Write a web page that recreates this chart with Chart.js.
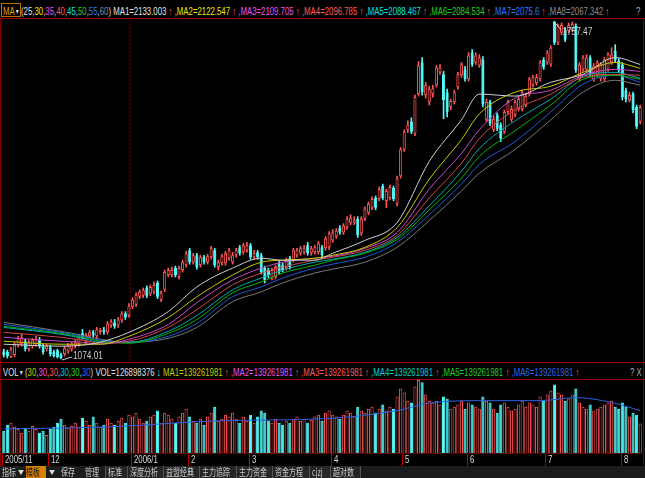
<!DOCTYPE html>
<html>
<head>
<meta charset="utf-8">
<script src="https://cdn.jsdelivr.net/npm/chart.js@4.4.1/dist/chart.umd.min.js"></script>
<style>
  html, body { margin: 0; padding: 0; background: #000; }
  body { position: relative; width: 645px; height: 478px; overflow: hidden; font-family: "Liberation Sans", Arial, sans-serif; }
  canvas { position: absolute; }
  .hline { position: absolute; left: 0; width: 645px; height: 1px; background: #a00000; }
  .vline { position: absolute; top: 18px; width: 1px; height: 448px; background: #800000; }
  .run { position: absolute; font-size: 11px; line-height: 12px; white-space: nowrap; transform: scaleX(0.71); transform-origin: 0 0; }
  .run b { font-weight: normal; }
  .tri { font-size: 7px; vertical-align: 1px; }
  #mabtn { position: absolute; left: 1px; top: 3px; width: 18px; height: 12px; border: 1px solid #c07000; }
  #tabs { position: absolute; left: 0; top: 466px; width: 645px; height: 12px; background: #1c1c1c; color: #c8c8c8; font-family: "Noto Sans CJK SC", sans-serif; font-size: 10px; line-height: 12px; }
  #tabs span { position: absolute; top: 0; height: 12px; white-space: nowrap; }
  #tabs span i { display: inline-block; font-style: normal; transform: scaleX(0.7); transform-origin: 0 0; }
  #tabs span.dd { font-size: 6px; color: #ddd; }
  #tabs .tab { border-left: 1px solid #555; background: #262626; }
  #tabs .tpl { background: #d88000; color: #111; }
</style>
</head>
<body>
<div id="mabtn"></div>
<div class="run" id="topHdr" style="left:3px;top:5px"></div>
<div class="run" style="left:636px;top:5px;color:#aaa">?</div>
<div class="hline" style="top:18px"></div>
<canvas id="price" width="640" height="343" style="left:2px;top:19px"></canvas>
<div class="hline" style="top:362px"></div>
<div class="run" id="volHdr" style="left:3px;top:366px"></div>
<div class="run" style="left:630px;top:366px;color:#aaa">? X</div>
<div class="hline" style="top:379px"></div>
<canvas id="vol" width="640" height="86" style="left:2px;top:380px"></canvas>
<div class="vline" style="left:0"></div>
<div class="vline" style="left:643px"></div>
<div id="tabs">
  <span style="left:2px"><i>指标</i></span><span class="dd" style="left:18px">▼</span>
  <span class="tpl" style="left:26px;width:20px"><i>模板</i></span><span class="dd" style="left:49px">▼</span>
  <span style="left:61px"><i>保存</i></span>
  <span style="left:85px"><i>管理</i></span>
  <span class="tab" style="left:105px;width:22px;padding-left:2px"><i>标准</i></span>
  <span class="tab" style="left:127px;width:33px;padding-left:2px"><i>深度分析</i></span>
  <span class="tab" style="left:163px;width:33px;padding-left:2px"><i>益盟经典</i></span>
  <span class="tab" style="left:199px;width:34px;padding-left:2px"><i>主力追踪</i></span>
  <span class="tab" style="left:236px;width:33px;padding-left:2px"><i>主力资金</i></span>
  <span class="tab" style="left:272px;width:34px;padding-left:2px"><i>资金方程</i></span>
  <span class="tab" style="left:309px;width:19px;padding-left:2px"><i>cjzj</i></span>
  <span class="tab" style="left:330px;width:27px;padding-left:2px;border-right:1px solid #555"><i>超对数</i></span>
</div>

<script>
// months shown on the date axis and trading days in each
const monthLabels = ['2005/11', '12', '2006/1', '2', '3', '4', '5', '6', '7', '8'];
const monthDays = [13, 23, 16, 17, 23, 20, 18, 22, 21, 6];

// daily candles
const open = [
  1090,1088,1078,1082,1102,1104,1110,1094,1100,1104,
  1112,1100,1094,1098,1088,1092,1082,1084,1090,1094,
  1100,1104,1126,1108,1120,1128,1120,1128,1134,1128,
  1142,1148,1142,1152,1166,1162,1180,1184,1200,1202,
  1218,1206,1210,1228,1194,1214,1244,1244,1258,1240,
  1254,1264,1294,1270,1284,1264,1280,1270,1280,1294,
  1260,1268,1268,1278,1270,1284,1300,1290,1294,1304,
  1280,1290,1284,1258,1254,1238,1240,1268,1264,1258,
  1278,1274,1284,1288,1290,1304,1288,1290,1290,1300,
  1298,1300,1314,1322,1340,1330,1340,1350,1350,1358,
  1328,1358,1370,1380,1400,1398,1424,1394,1400,1420,
  1388,1444,1498,1538,1554,1530,1610,1674,1608,1594,
  1610,1628,1654,1650,1614,1584,1594,1624,1648,1660,
  1640,1694,1674,1668,1680,1558,1594,1538,1568,1548,
  1534,1574,1558,1568,1580,1580,1588,1610,1628,1632,
  1640,1680,1674,1670,1756,1714,1734,1740,1738,1740,
  1748,1640,1660,1660,1684,1640,1648,1640,1640,1660,
  1674,1698,1678,1670,1618,1598,1610,1584,1554
];
const high = [
  1094,1092,1098,1108,1120,1124,1114,1112,1116,1120,
  1118,1104,1104,1102,1092,1094,1086,1100,1106,1108,
  1112,1122,1134,1126,1132,1132,1138,1136,1138,1150,
  1154,1154,1158,1170,1170,1186,1198,1208,1214,1218,
  1222,1224,1230,1232,1212,1254,1258,1260,1262,1262,
  1274,1292,1298,1288,1288,1284,1284,1286,1302,1298,
  1274,1286,1292,1298,1290,1298,1304,1308,1310,1308,
  1294,1294,1288,1262,1258,1258,1264,1272,1268,1278,
  1282,1298,1298,1302,1304,1310,1302,1304,1312,1304,
  1322,1332,1336,1338,1344,1348,1362,1366,1362,1362,
  1362,1382,1392,1402,1404,1422,1428,1418,1426,1424,
  1444,1502,1538,1556,1562,1608,1676,1684,1634,1626,
  1628,1668,1670,1656,1620,1600,1618,1654,1674,1666,
  1694,1700,1694,1690,1686,1600,1598,1566,1572,1552,
  1578,1598,1586,1598,1604,1618,1612,1644,1648,1650,
  1678,1684,1698,1708,1757.47,1752,1754,1744,1754,1756,
  1752,1674,1688,1690,1688,1672,1678,1674,1684,1694,
  1704,1710,1682,1674,1622,1614,1614,1588,1588
];
const low = [
  1078,1076,1077,1079,1098,1100,1090,1090,1096,1100,
  1096,1084,1090,1080,1078,1076,1074.01,1080,1086,1090,
  1096,1100,1114,1104,1116,1118,1116,1124,1124,1124,
  1138,1136,1138,1148,1154,1158,1176,1180,1196,1198,
  1198,1202,1206,1196,1190,1210,1240,1240,1240,1236,
  1250,1260,1266,1266,1256,1260,1266,1266,1276,1260,
  1254,1264,1264,1274,1266,1280,1284,1286,1290,1276,
  1276,1276,1246,1228,1238,1234,1236,1246,1250,1254,
  1256,1270,1280,1284,1286,1284,1284,1286,1286,1280,
  1294,1296,1310,1318,1326,1326,1336,1346,1346,1320,
  1324,1354,1366,1376,1376,1394,1396,1380,1396,1394,
  1384,1440,1494,1532,1530,1526,1606,1608,1602,1588,
  1604,1624,1650,1560,1564,1578,1590,1620,1644,1636,
  1636,1666,1670,1664,1584,1554,1546,1534,1536,1514,
  1530,1570,1554,1564,1576,1576,1584,1606,1624,1628,
  1636,1660,1670,1666,1710,1710,1730,1716,1734,1736,
  1654,1636,1656,1656,1646,1636,1644,1636,1636,1656,
  1670,1674,1654,1598,1594,1594,1572,1540,1550
];
const close = [
  1082,1080,1094,1104,1116,1118,1094,1108,1112,1114,
  1100,1088,1100,1084,1080,1078,1076,1096,1102,1104,
  1108,1118,1118,1122,1128,1122,1134,1132,1128,1146,
  1150,1140,1154,1166,1158,1182,1194,1204,1210,1214,
  1202,1220,1224,1200,1208,1250,1254,1254,1244,1258,
  1270,1288,1270,1284,1260,1280,1270,1282,1298,1264,
  1270,1282,1288,1294,1284,1294,1288,1304,1304,1280,
  1288,1280,1250,1234,1244,1254,1260,1250,1254,1274,
  1260,1294,1294,1298,1298,1288,1298,1300,1308,1284,
  1318,1328,1330,1334,1330,1344,1358,1360,1356,1324,
  1358,1378,1388,1398,1380,1418,1400,1414,1422,1398,
  1440,1498,1534,1548,1534,1604,1668,1614,1628,1620,
  1622,1664,1664,1598,1574,1596,1614,1650,1670,1640,
  1688,1670,1688,1684,1590,1594,1550,1560,1540,1520,
  1574,1594,1580,1594,1600,1614,1606,1640,1644,1644,
  1674,1664,1694,1704,1714,1748,1750,1720,1750,1752,
  1658,1670,1684,1684,1650,1668,1674,1670,1680,1690,
  1690,1678,1658,1604,1600,1608,1578,1544,1584
];
// volume, millions
const volume = [
  96,122,131,113,104,87,109,96,117,104,
  87,96,78,104,113,131,148,122,109,117,
  131,113,152,139,122,157,131,113,122,148,
  131,122,139,152,131,165,157,174,148,131,
  139,157,165,183,131,174,165,148,131,157,
  174,191,157,139,131,148,122,157,174,200,
  139,148,165,157,174,148,131,157,139,165,
  131,157,183,174,139,131,148,131,122,139,
  131,148,157,139,148,131,144,157,165,139,
  174,183,165,157,148,165,183,174,157,200,
  183,174,191,200,174,191,209,183,200,191,
  244,278,261,226,218,287,315,305,252,226,
  218,226,209,244,235,191,200,209,226,191,
  218,209,200,191,244,226,218,191,174,209,
  218,200,183,191,209,226,200,218,209,200,
  244,226,252,270,296,261,252,226,235,252,
  278,218,200,191,209,183,191,200,209,218,
  226,200,191,218,200,157,174,165,127
];

// moving averages at these candle positions
const maPeriods = [25, 30, 35, 40, 45, 50, 55, 60];
const maLast = [2133.003, 2122.547, 2109.705, 2096.785, 2088.467, 2084.534, 2075.6, 2067.342];
const maIdx = [0, 16, 22, 27, 35, 46, 54, 64, 72, 78, 87, 92, 101, 110, 119, 128, 133, 143, 153, 162, 171, 178];
const ma1 = [1104,1100,1102,1108,1128,1170,1220,1258,1278,1274,1274,1288,1314,1350,1474,1558,1610,1606,1634,1650,1684,1670];
const ma2 = [1110,1104,1104,1104,1120,1158,1200,1244,1270,1274,1278,1284,1300,1340,1438,1518,1570,1614,1626,1654,1674,1662];
const ma3 = [1118,1110,1108,1104,1114,1144,1188,1234,1258,1270,1278,1282,1298,1330,1418,1490,1538,1602,1618,1648,1660,1656];
const ma4 = [1128,1118,1112,1106,1110,1138,1174,1224,1248,1260,1274,1280,1294,1324,1400,1470,1520,1578,1610,1644,1650,1648];
const ma5 = [1138,1124,1116,1108,1108,1130,1162,1214,1238,1254,1270,1276,1290,1320,1384,1454,1500,1556,1600,1646,1654,1642];
const ma6 = [1140,1126,1118,1110,1106,1126,1154,1208,1230,1248,1264,1274,1288,1316,1376,1440,1484,1536,1588,1640,1648,1640];
const ma7 = [1144,1128,1120,1112,1108,1120,1146,1200,1220,1238,1258,1266,1280,1310,1366,1428,1468,1514,1574,1630,1648,1634];
const ma8 = [1148,1130,1122,1114,1108,1116,1138,1190,1210,1228,1248,1256,1270,1300,1354,1414,1450,1498,1558,1614,1638,1628];

const volMaPeriods = [30, 30, 30, 30, 30, 30];
const volLast = 126898376;
const volMaLast = [139261981, 139261981, 139261981, 139261981, 139261981, 139261981];
const volMaIdx = [0, 30, 60, 90, 110, 120, 135, 150, 160, 170, 178];
const volMa = [104, 113, 139, 148, 183, 218, 226, 226, 239, 218, 183];

// ---- colours
const RED = '#ff5454', CYAN = '#54fcfc';
const maTextColors = ['#e0e0e0', '#e8e800', '#f050f0', '#ff5a5a', '#00e0e0', '#20d020', '#2a78ff', '#8c8c8c'];
const maLineColors = ['#d0d0d0', '#c8c800', '#c848c8', '#d04848', '#00aaaa', '#00b400', '#1a5ad8', '#787878'];
const volTextColors = ['#c8d000', '#f050f0', '#ff5a5a', '#00d0d0', '#20d020', '#2a68f0'];

// ---- headers
function addRun(el, parts) {
  parts.forEach(([txt, col]) => {
    const b = document.createElement('b');
    b.textContent = txt;
    b.style.color = col;
    el.appendChild(b);
  });
}
const topParts = [['MA', '#e8a000'], ['▼ ', '#ddd'], ['(', '#ddd']];
maPeriods.forEach((p, j) => { topParts.push([String(p), maTextColors[j]]); topParts.push([j < 7 ? ',' : ') ', '#ddd']); });
maLast.forEach((v, j) => {
  topParts.push([(j ? ',' : '') + 'MA' + (j + 1) + '=' + v, maTextColors[j]]);
  topParts.push([' ↑ ', RED]);
});
addRun(document.getElementById('topHdr'), topParts);
document.querySelector('#topHdr b:nth-child(2)').className = 'tri';

const volParts = [['VOL', '#e0e0e0'], ['▼ ', '#ddd'], ['(', '#ddd']];
volMaPeriods.forEach((p, j) => { volParts.push([String(p), volTextColors[j]]); volParts.push([j < 5 ? ',' : ') ', '#ddd']); });
volParts.push(['VOL=' + volLast, '#e0e0e0'], [' ↓ ', CYAN]);
volMaLast.forEach((v, j) => {
  volParts.push([(j ? ',' : '') + 'MA' + (j + 1) + '=' + v, volTextColors[j]]);
  volParts.push([' ↑ ', RED]);
});
addRun(document.getElementById('volHdr'), volParts);
document.querySelector('#volHdr b:nth-child(2)').className = 'tri';

// ---- shared data prep
const N = close.length;
const labels = [];
const monthStart = [];
monthLabels.forEach((m, k) => {
  monthStart.push(labels.length);
  for (let d = 0; d < monthDays[k]; d++) labels.push(d === 0 ? m : '');
});
const yearStart = monthDays[0] + monthDays[1];
const isUp = close.map((c, i) => c >= open[i]);
const edge = isUp.map(u => u ? RED : CYAN);
const fill = isUp.map(u => u ? '#000' : CYAN);

function sparse(idx, vals) {
  const a = new Array(N).fill(null);
  idx.forEach((k, j) => { a[k] = vals[j]; });
  return a;
}

Chart.defaults.font.family = '"Liberation Sans", Arial, sans-serif';

// labels at the lowest low and the highest high
const extremes = {
  id: 'extremes',
  afterDatasetsDraw(chart) {
    const { ctx, scales: { x, y } } = chart;
    const lo = low.indexOf(Math.min(...low));
    const hi = high.indexOf(Math.max(...high));
    ctx.save();
    ctx.strokeStyle = '#cfcfcf';
    ctx.fillStyle = '#cfcfcf';
    ctx.lineWidth = 1;
    ctx.font = '11px "Liberation Sans", Arial';
    ctx.textBaseline = 'middle';

    let px = x.getPixelForValue(lo), py = y.getPixelForValue(low[lo]);
    ctx.beginPath(); ctx.moveTo(px + 1, py + 1); ctx.lineTo(px + 11, py - 2); ctx.stroke();
    ctx.save(); ctx.translate(px + 12, py - 3); ctx.scale(0.75, 1);
    ctx.fillText(low[lo].toFixed(2), 0, 0); ctx.restore();

    px = x.getPixelForValue(hi); py = y.getPixelForValue(high[hi]);
    ctx.beginPath(); ctx.moveTo(px + 1, py + 2); ctx.lineTo(px + 7, py + 9); ctx.stroke();
    ctx.save(); ctx.translate(px + 8, py + 11); ctx.scale(0.75, 1);
    ctx.fillText(high[hi].toFixed(2), 0, 0); ctx.restore();
    ctx.restore();
  }
};

// month ticks and labels under the volume panel
const dateAxis = {
  id: 'dateAxis',
  afterDraw(chart) {
    const { ctx, scales: { x }, chartArea } = chart;
    const half = (x.getPixelForValue(1) - x.getPixelForValue(0)) / 2;
    ctx.save();
    ctx.strokeStyle = '#5a0000';
    ctx.beginPath(); ctx.moveTo(0, chartArea.bottom + 0.5); ctx.lineTo(chart.width, chartArea.bottom + 0.5); ctx.stroke();
    ctx.strokeStyle = '#c00000';
    ctx.fillStyle = '#d8d8d8';
    ctx.font = '10px "Liberation Sans", Arial';
    ctx.textBaseline = 'top';
    monthStart.forEach(i => {
      const px = Math.round(x.getPixelForValue(i) - half) + 0.5;
      ctx.beginPath(); ctx.moveTo(px, chartArea.bottom + 1); ctx.lineTo(px, chartArea.bottom + 13); ctx.stroke();
      ctx.save(); ctx.translate(px + 2.5, chartArea.bottom + 2); ctx.scale(0.78, 1);
      ctx.fillText(labels[i], 0, 0); ctx.restore();
    });
    ctx.restore();
  }
};

const maSets = [ma1, ma2, ma3, ma4, ma5, ma6, ma7, ma8].map((v, j) => ({
  type: 'line',
  data: sparse(maIdx, v),
  borderColor: maLineColors[j],
  borderWidth: 1,
  pointRadius: 0,
  spanGaps: true,
  cubicInterpolationMode: 'monotone',
  order: 0
}));

new Chart(document.getElementById('price'), {
  data: {
    labels: labels,
    datasets: maSets.concat([
      {
        type: 'bar',
        data: open.map((o, i) => [Math.min(o, close[i]), Math.max(o, close[i])]),
        backgroundColor: fill,
        borderColor: edge,
        borderWidth: 1,
        borderSkipped: false,
        grouped: false,
        barPercentage: 0.88,
        categoryPercentage: 1,
        order: 1
      },
      {
        type: 'bar',
        data: low.map((l, i) => [l, high[i]]),
        backgroundColor: edge,
        barThickness: 1,
        grouped: false,
        order: 2
      }
    ])
  },
  options: {
    responsive: false,
    animation: false,
    devicePixelRatio: 1,
    events: [],
    layout: { padding: 0 },
    plugins: { legend: { display: false }, tooltip: { enabled: false } },
    scales: {
      x: {
        offset: true,
        ticks: { display: false },
        grid: {
          offset: true,
          drawTicks: false,
          color: c => c.index === yearStart ? '#6a0000' : 'rgba(0,0,0,0)'
        },
        border: { display: false, dash: [2, 2] }
      },
      y: { display: false, min: 1068, max: 1762 }
    }
  },
  plugins: [extremes]
});

new Chart(document.getElementById('vol'), {
  data: {
    labels: labels,
    datasets: [
      {
        type: 'line',
        data: sparse(volMaIdx, volMa),
        borderColor: '#2a60e0',
        borderWidth: 1,
        pointRadius: 0,
        spanGaps: true,
        cubicInterpolationMode: 'monotone',
        order: 0
      },
      {
        type: 'bar',
        data: volume,
        backgroundColor: fill,
        borderColor: edge,
        borderWidth: 1,
        barPercentage: 0.88,
        categoryPercentage: 1,
        order: 1
      }
    ]
  },
  options: {
    responsive: false,
    animation: false,
    devicePixelRatio: 1,
    events: [],
    layout: { padding: { bottom: 13 } },
    plugins: { legend: { display: false }, tooltip: { enabled: false } },
    scales: {
      x: { display: false, offset: true },
      y: { display: false, min: 0, max: 315 }
    }
  },
  plugins: [dateAxis]
});
</script>
</body>
</html>
